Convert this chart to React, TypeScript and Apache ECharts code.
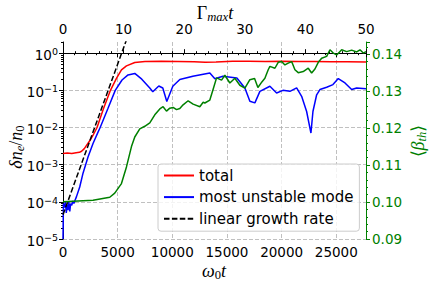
import React, { useEffect, useRef } from 'react';
import * as echarts from 'echarts';

// ---------- axis ranges / ticks ----------
const X_MAX = 27720; // omega_0 t at right edge
const GAMMA_T_MAX = 50; // Gamma_max t at right edge
const LEFT_MIN = 1e-5;
const LEFT_MAX = 2;
const RIGHT_MIN = 0.09;
const RIGHT_MAX = 0.1433;
const leftExponents = [-5, -4, -3, -2, -1, 0];

// ---------- data ----------
const totalT = [0, 400, 800, 1200, 1500, 1700, 1950, 2150, 2450, 2750, 3114, 3700, 4341, 4890, 5348, 5806, 6566, 7500, 9000, 10500, 12000, 13000, 14000, 15500, 17000, 18500, 20000, 21500, 23000, 24500, 26000, 27720];
const totalV = [2.0e-3, 2.05e-3, 2.0e-3, 2.1e-3, 2.15e-3, 2.3e-3, 2.7e-3, 3.3e-3, 4.4e-3, 6.2e-3, 1.0e-2, 3.2e-2, 0.1, 0.21, 0.355, 0.455, 0.56, 0.6, 0.61, 0.6, 0.59, 0.57, 0.58, 0.61, 0.61, 0.6, 0.61, 0.6, 0.6, 0.59, 0.59, 0.58];

const modeT = [0, 40, 120, 220, 300, 380, 450, 530, 620, 700, 800, 900, 1000, 1100, 1227, 1529, 1832, 2289, 2747, 3205, 3400, 4100, 4780, 5400, 5950, 6566, 7207, 7940, 8215, 8764, 9130, 9496, 10046, 10687, 11877, 13434, 13892, 14625, 15907, 16639, 17097, 17555, 18013, 18929, 19542, 20119, 20760, 21374, 21832, 22289, 22683, 22866, 23205, 23507, 24121, 24698, 25183, 25797, 26410, 26868, 27720];
const modeV = [1e-5, 9e-5, 7e-5, 1.0e-4, 5e-5, 8.5e-5, 6e-5, 1.0e-4, 5.5e-5, 9e-5, 8e-5, 1.05e-4, 9e-5, 1.1e-4, 1.36e-4, 2.5e-4, 5.9e-4, 1.6e-3, 3.7e-3, 7.5e-3, 1e-2, 3.2e-2, 0.1, 0.19, 0.26, 0.285, 0.2, 0.116, 0.092, 0.131, 0.116, 0.05, 0.129, 0.195, 0.24, 0.294, 0.206, 0.24, 0.216, 0.116, 0.051, 0.046, 0.094, 0.129, 0.085, 0.1, 0.094, 0.116, 0.069, 0.027, 0.0071, 0.027, 0.076, 0.105, 0.121, 0.143, 0.207, 0.158, 0.105, 0.116, 0.111];

const growthT = [0, 5806];
const growthV = [4.5e-5, 2.28];

const betaT = [0, 2747, 4277, 4734, 5348, 5806, 6264, 6566, 7024, 7482, 7940, 8398, 8855, 9158, 9469, 9771, 10073, 10385, 10687, 10989, 11447, 11905, 12518, 12821, 12976, 13434, 13736, 14048, 14505, 14808, 15265, 15723, 16181, 16639, 17097, 17527, 17830, 18196, 18471, 18773, 18929, 19387, 19689, 20000, 20302, 20604, 20916, 21218, 21520, 21978, 22436, 22747, 23049, 23352, 23663, 24121, 24423, 24725, 25037, 25495, 25952, 26410, 26868, 27170, 27473, 27720];
const betaV = [0.1001, 0.1005, 0.1013, 0.1024, 0.105, 0.1095, 0.115, 0.1176, 0.1198, 0.1205, 0.1214, 0.1236, 0.1252, 0.1258, 0.1246, 0.1254, 0.1256, 0.125, 0.1253, 0.1263, 0.1274, 0.1265, 0.1258, 0.127, 0.1268, 0.1276, 0.1305, 0.1336, 0.133, 0.1343, 0.1322, 0.1335, 0.1316, 0.1308, 0.1331, 0.1334, 0.131, 0.1325, 0.1335, 0.1358, 0.1367, 0.1362, 0.1378, 0.138, 0.1371, 0.1376, 0.138, 0.1358, 0.135, 0.1353, 0.1362, 0.1349, 0.136, 0.1378, 0.1389, 0.1394, 0.1412, 0.1403, 0.1398, 0.1412, 0.1407, 0.1411, 0.1406, 0.1412, 0.1403, 0.1407];

const legendNames = ['total', 'most unstable mode', 'linear growth rate'];

// ---------- helpers ----------
const lg = (v: number) => Math.log10(v);
const logPairs = (ts: number[], vs: number[]) => ts.map((t, i) => [t, lg(vs[i])]);
const pairs = (ts: number[], vs: number[]) => ts.map((t, i) => [t, vs[i]]);
const minorLogTicks: number[] = [];
for (let e = -5; e <= 0; e++) {
  for (let m = 2; m <= 9; m++) {
    const v = lg(m * Math.pow(10, e));
    if (v <= lg(LEFT_MAX)) minorLogTicks.push(v);
  }
}

const TICK_FONT = 'DejaVu Sans';
const MATH_FONT = 'Liberation Serif';
const GREEN = '#008000';

export default function App() {
  const ref = useRef<HTMLDivElement>(null);
  useEffect(() => {
    if (!ref.current) return;
    const chart = echarts.init(ref.current, undefined, { renderer: 'svg' });
    const splitLine = { show: true, lineStyle: { color: '#b0b0b0', width: 0.8, type: [4, 2] as number[] } };
    const mathRich = (color: string, size: number) => ({
      i: { fontFamily: MATH_FONT, fontStyle: 'italic', fontSize: size, lineHeight: size + 2, fill: color, color },
      u: { fontFamily: MATH_FONT, fontSize: size, lineHeight: size + 2, fill: color, color },
      sub: { fontFamily: MATH_FONT, fontSize: size * 0.7, lineHeight: size * 0.55, verticalAlign: 'bottom', fill: color, color },
      subi: { fontFamily: MATH_FONT, fontStyle: 'italic', fontSize: size * 0.7, lineHeight: size * 0.55, verticalAlign: 'bottom', fill: color, color },
    });
    chart.setOption({
      animation: false,
      grid: { left: 63, right: 70, top: 42, bottom: 47, containLabel: false },
      legend: {
        data: legendNames,
        orient: 'vertical',
        left: 158,
        top: 164,
        itemWidth: 30,
        itemHeight: 16,
        itemGap: 5.6,
        padding: [3.5, 6, 4.5, 5],
        backgroundColor: 'rgba(255,255,255,0.8)',
        borderColor: '#cccccc',
        borderWidth: 1,
        borderRadius: 3,
        itemStyle: { opacity: 0 },
        textStyle: { fontFamily: TICK_FONT, fontSize: 15, color: '#000', lineHeight: 16 },
      },
      xAxis: [
        {
          type: 'value', position: 'bottom', min: 0, max: X_MAX, interval: 5000,
          axisLine: { show: true, lineStyle: { color: '#000', width: 1 } },
          axisTick: { show: true, inside: false, length: 4, lineStyle: { color: '#000' } },
          minorTick: { show: true, splitNumber: 5, length: 2, lineStyle: { color: '#000' } },
          splitLine,
          axisLabel: {
            fontFamily: TICK_FONT, fontSize: 13.5, color: '#000', margin: 6,
            formatter: (v: number) => (v % 5000 === 0 ? String(v) : ''),
          },
        },
        {
          type: 'value', position: 'top', min: 0, max: GAMMA_T_MAX, interval: 10,
          axisLine: { show: true, lineStyle: { color: '#000', width: 1 } },
          axisTick: { show: true, inside: false, length: 4, lineStyle: { color: '#000' } },
          minorTick: { show: true, splitNumber: 5, length: 2, lineStyle: { color: '#000' } },
          splitLine: { show: false },
          axisLabel: { fontFamily: TICK_FONT, fontSize: 13.5, color: '#000', margin: 6 },
        },
      ],
      yAxis: [
        {
          type: 'value', position: 'left', min: lg(LEFT_MIN), max: lg(LEFT_MAX),
          axisLine: { show: true, lineStyle: { color: '#000', width: 1 } },
          axisTick: { show: true, inside: false, length: 4, customValues: leftExponents, lineStyle: { color: '#000' } },
          splitLine,
          axisLabel: {
            customValues: leftExponents,
            margin: 5,
            padding: [3, 0, 0, 0],
            formatter: (v: number) => `{b|10}{s|${v < 0 ? '\u2212' + String(-v) : String(v)}}`,
            rich: {
              b: { fontFamily: TICK_FONT, fontSize: 13.5, lineHeight: 16, color: '#000' },
              s: { fontFamily: TICK_FONT, fontSize: 9.5, lineHeight: 8, verticalAlign: 'top', color: '#000' },
            },
          },
        },
        {
          type: 'value', position: 'left', min: lg(LEFT_MIN), max: lg(LEFT_MAX),
          axisLine: { show: false },
          axisTick: { show: true, inside: false, length: 2, customValues: minorLogTicks, lineStyle: { color: '#000' } },
          axisLabel: { show: false },
          splitLine: { show: false },
        },
        {
          type: 'value', position: 'right', min: RIGHT_MIN, max: RIGHT_MAX, interval: 0.01,
          axisLine: { show: true, lineStyle: { color: GREEN, width: 1 } },
          axisTick: { show: true, inside: false, length: 4, lineStyle: { color: GREEN } },
          minorTick: { show: true, splitNumber: 5, length: 2, lineStyle: { color: GREEN } },
          splitLine: { show: false },
          axisLabel: {
            fontFamily: TICK_FONT, fontSize: 13.5, color: GREEN, margin: 6,
            formatter: (v: number) => (Math.abs(v * 100 - Math.round(v * 100)) < 1e-6 ? v.toFixed(2) : ''),
          },
        },
      ],
      series: [
        {
          name: 'total', type: 'line', xAxisIndex: 0, yAxisIndex: 0, data: logPairs(totalT, totalV),
          symbol: 'none', lineStyle: { color: '#ff0000', width: 1.5 }, itemStyle: { color: '#ff0000' }, z: 3,
        },
        {
          name: 'most unstable mode', type: 'line', xAxisIndex: 0, yAxisIndex: 0, data: logPairs(modeT, modeV),
          symbol: 'none', lineStyle: { color: '#0000ff', width: 1.5 }, itemStyle: { color: '#0000ff' }, z: 3,
        },
        {
          name: 'linear growth rate', type: 'line', xAxisIndex: 0, yAxisIndex: 0, data: logPairs(growthT, growthV),
          symbol: 'none', lineStyle: { color: '#000', width: 1.5, type: [5.5, 2.4] }, itemStyle: { color: '#000' }, z: 3,
        },
        {
          name: 'beta', type: 'line', xAxisIndex: 0, yAxisIndex: 2, data: pairs(betaT, betaV),
          symbol: 'none', lineStyle: { color: GREEN, width: 1.5 }, itemStyle: { color: GREEN }, z: 4,
        },
      ],
      graphic: [
        {
          type: 'text', x: 215, y: 13,
          style: { text: '{u|Γ}{subi|max}{i|t}', rich: mathRich('#000', 18), align: 'center', verticalAlign: 'middle' },
        },
        {
          type: 'text', x: 214, y: 271,
          style: { text: '{i|ω}{sub|0}{i|t}', rich: mathRich('#000', 18), align: 'center', verticalAlign: 'middle' },
        },
        {
          type: 'text', x: 16, y: 147, rotation: Math.PI / 2,
          style: { text: '{i|δn}{subi|e}{u|/}{i|n}{sub|0}', rich: mathRich('#000', 18), align: 'center', verticalAlign: 'middle' },
        },
        {
          type: 'text', x: 418, y: 141, rotation: Math.PI / 2,
          style: { text: '{u|\u27e8}{i|β}{subi|th}{u|\u27e9}', rich: mathRich(GREEN, 18), align: 'center', verticalAlign: 'middle' },
        },
      ],
    });
    return () => chart.dispose();
  }, []);
  return <div ref={ref} style={{ position: 'fixed', left: 0, top: 0, width: 436, height: 286, background: '#fff' }} />;
}
